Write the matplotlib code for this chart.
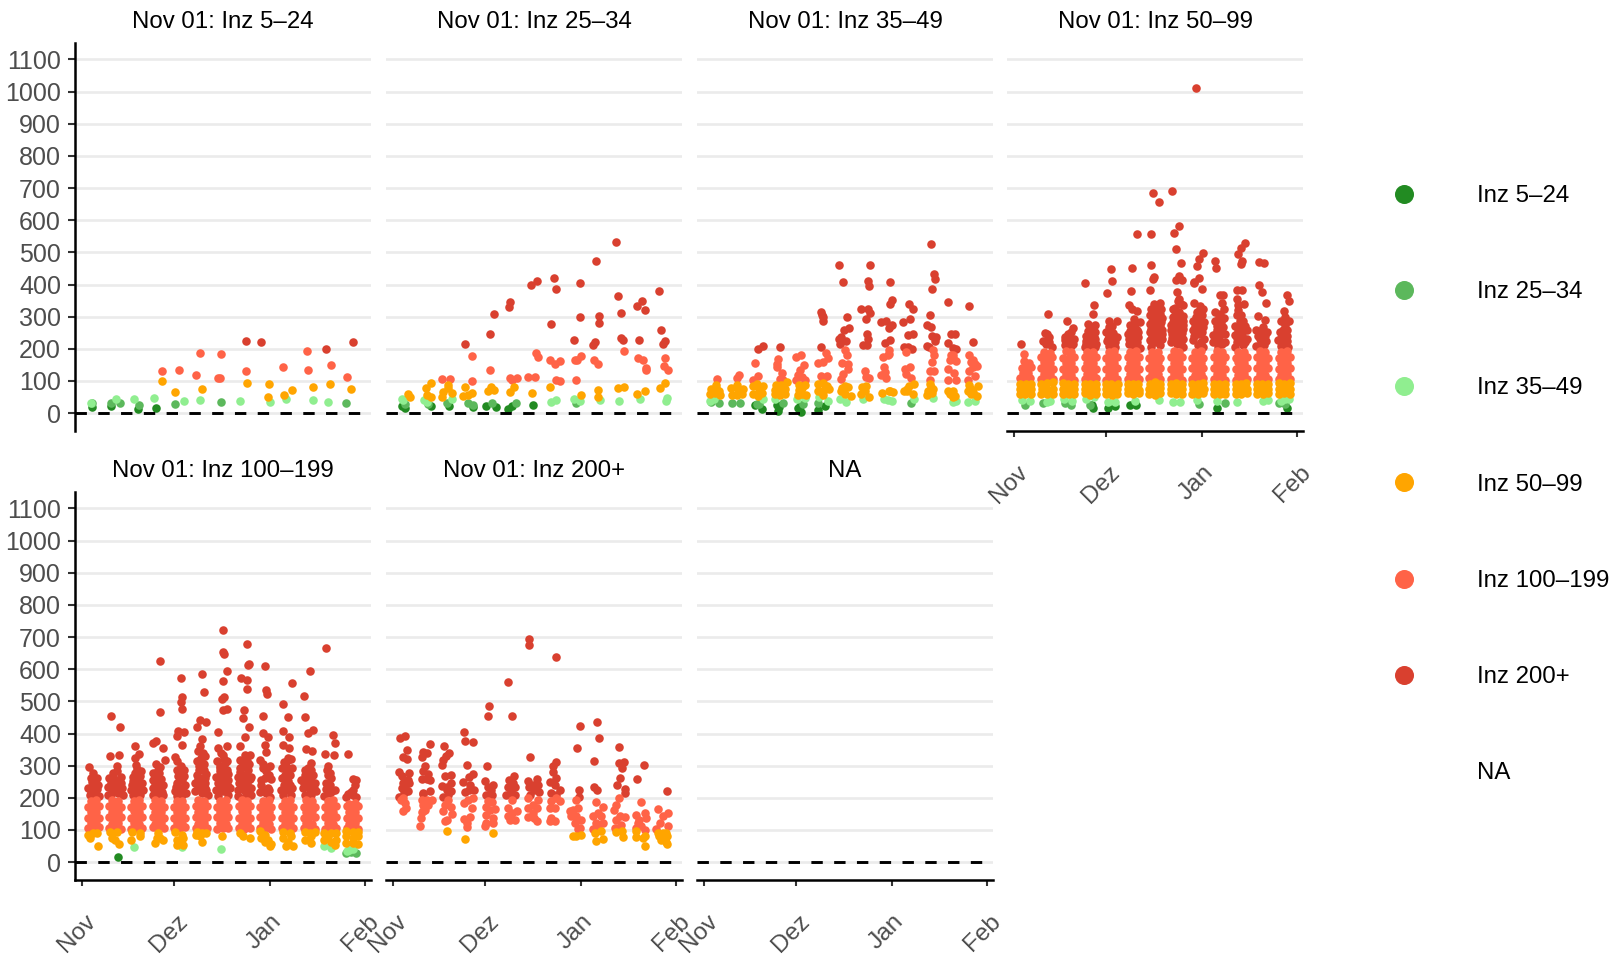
import numpy as np
import matplotlib
matplotlib.use('Agg')
import matplotlib.pyplot as plt
from matplotlib.lines import Line2D
from matplotlib.transforms import ScaledTranslation

plt.rcParams['font.family'] = ['Liberation Sans', 'DejaVu Sans']
plt.rcParams['lines.scale_dashes'] = False

groups = ['Inz 5–24', 'Inz 25–34', 'Inz 35–49', 'Inz 50–99', 'Inz 100–199', 'Inz 200+']
titles = ['Nov 01: Inz 5–24', 'Nov 01: Inz 25–34', 'Nov 01: Inz 35–49', 'Nov 01: Inz 50–99',
          'Nov 01: Inz 100–199', 'Nov 01: Inz 200+', 'NA']
colours = ['#228B22', '#5CB85C', '#90EE90', '#FFA500', '#FF6347', '#D9402F']
month_days = [0, 30, 61, 92]  # days since 1 Nov
month_labels = ['Nov', 'Dez', 'Jan', 'Feb']
y_ticks = list(range(0, 1101, 100))

# every point is (days since 1 Nov, value)
p1_dark = [(3.5,20),(9.4,23),(18.4,13),(24.2,17)]
p1_mid = [(3.5,31),(9.5,31),(12.5,30),(18.5,26),(30.2,29),(45.2,35),(85.9,32)]
p1_light = [(2.9,33),(11,44),(17.1,43),(23.5,48),(33.1,38),(38.4,41),(51.3,38),(61.1,35),(66.4,45),(75.1,41),(80.0,35)]
p1_orange = [(25.9,101),(30.4,66),(39,76),(53.7,94),(60.4,51),(60.9,91),(65.7,57),(68.4,72),(75.1,82),(80.7,91),(87.5,76)]
p1_tomato = [(25.9,132),(31.5,135),(37.1,119),(38.4,188),(44.3,110),(44.9,110),(45.2,185),(53.3,132),(65.2,144),(73.2,194),(73.5,135),(80.8,151),(86.2,113)]
p1_red = [(53.3,225),(58.1,222),(79.3,200),(88.2,222)]

p2_dark = [(3.1,23),(4,17),(12.3,23),(18.4,23),(25.9,19),(30.2,21),(33.4,20),(37.5,13),(38.8,23),(45.4,24)]
p2_mid = [(4,29),(11.6,29),(17.5,32),(24.5,32),(25.9,26),(32.3,30),(39.9,32),(59.6,30)]
p2_light = [(2.9,45),(3.5,40),(10,41),(11,34),(19.1,45),(51.4,35),(53,41),(58.8,45),(60.7,38),(67.2,41),(73.4,38),(80.2,45),(89,48),(88.6,38)]
p2_orange = [(5,60),(5.5,51),(10.7,79),(12.3,94),(11,57),(12.3,51),(16.4,67),(17.8,87),(18,78),(19.2,63),(16,51),(23.5,82),(22.9,54),(24.5,57),(25.8,62),
             (31.8,82),(31,69),(33,73),(38.2,66),(39.5,82),(45.1,63),(50.9,82),(61,57),(66.7,73),(66.7,51),(73,79),(75,82),(79.4,60),(82,69),(86.7,79),(88.4,94)]
p2_tomato = [(25.8,178),(25.6,101),(31.6,135),(38.2,110),(38.6,102),(40.2,110),(44,113),(46.1,111),(46.4,188),(47.2,174),(50.9,166),(52.6,153),(54.2,163),
             (53.1,104),(54.4,101),(59.3,166),(59.8,164),(61.2,178),(59.4,104),(65.3,166),(66.7,153),(75.1,194),(79.5,172),(81.2,166),(82.1,141),(82.2,133),
             (88.4,172),(88,147),(89.2,135),(16.1,106),(18.6,107)]
p2_red = [(72.4,533),(66.1,474),(52.5,421),(60.8,405),(53.1,387),(46.7,412),(45,399),(86.5,381),(73.2,365),(80.8,349),(79.4,334),(81.9,321),(74,312),(66.9,303),
          (60.8,300),(67.1,281),(51.5,278),(87,259),(74.2,234),(74.9,226),(79.9,228),(88.3,225),(87.6,216),(58.9,228),(65.6,221),(65,213),(38.2,345),(37.8,331),
          (32.8,309),(31.5,247),(23.5,216)]

p3_dark = [(16.6,24),(18.8,13),(23.7,24),(24.2,8),(24.5,19),(30.7,17),(31.5,3),(31.2,21),(37.2,11),(39.5,21)]
p3_mid = [(2.3,34),(5.1,30),(9.1,30),(11.8,30),(17.2,29),(17.9,27),(25.8,31),(32.3,27),(37.2,30),(67.4,32)]
p3_light = [(2,39),(3.4,43),(19.1,45),(23.1,45),(30.3,43),(32.8,47),(37.5,50),(40.4,39),(44.2,45),(46.1,35),(51.7,43),(58.5,43),(59.8,41),(61.2,39),(68.1,45),
            (74.4,48),(80.9,36),(82,38),(85.8,34),(88.1,37)]
p3_orange = [(2.2,60),(3.7,62),(5.4,56),(2.4,75),(4,78),(5,70),(3.9,88),(9.2,57),(10.8,55),(12.3,60),(9,77),(11,72),(12.6,75),(10.8,88),
             (16.1,60),(17.6,52),(19,62),(16,85),(18,75),(19.2,85),(17.2,90),(23,58),(24.8,55),(26.3,60),(23,72),(25,74),(26.5,75),(23.4,88),(25,86),(26.9,96),
             (30.6,55),(32,60),(33.2,55),(31,72),(32,78),(31,88),(32.8,88),(38.6,55),(37.2,70),(39,72),(40.6,75),(37.2,90),(38.8,95),(40,85),
             (44.5,70),(46,60),(47.7,54),(45,78),(46.8,80),(45.8,85),(51,60),(52.5,70),(53.6,50),(52.8,85),(51.5,80),(58,62),(60,68),(61.5,66),(60.5,70),
             (65,68),(66.6,85),(68.2,90),(66,75),(68,60),(66,68),(72.4,55),(74,62),(73.8,82),(74.5,75),(72.8,68),(73.5,90),
             (79.2,70),(80.5,65),(81.5,52),(79.8,60),(81,50),(80.8,68),(86,88),(86.8,60),(88.8,52),(86.7,75),(88.9,85),(87.5,65),(85.9,70)]
p3_tomato = [(4.4,107),(11.4,120),(10.7,110),(16.1,104),(17.7,116),(16.6,157),(24.2,167),(23.9,153),(23.7,143),(25.5,125),(24.7,107),(25.6,104),
             (30.1,174),(31.5,181),(32.6,151),(31.2,133),(30.7,120),(31.8,112),(30.1,104),(32.8,104),(37.1,157),(38.8,160),(39.6,186),(40.4,173),(38,117),(40.1,114),(38.8,107),
             (45.8,197),(46.4,181),(45,157),(46.9,153),(46.7,138),(45.3,122),(44.4,107),(52.5,130),(52.8,112),(53.7,110),(60.1,195),(60.1,185),(58.3,176),(58.5,143),(57.6,120),
             (59.3,110),(58.8,127),(59.8,180),(65.8,190),(65.2,138),(66.9,143),(65.8,122),(67.4,110),(74.4,197),(74.6,181),(74.2,160),(73.3,130),(74.7,130),(73.3,104),
             (80.9,181),(79.8,166),(81.8,162),(79.3,138),(81.4,125),(79.3,104),(81.9,104),(80.9,170),(80.3,181),(86,181),(87.4,166),(88.7,146),(86,130),(87.9,117),(85.8,104),
             (87.4,143),(86.9,158),(88.2,153)]
p3_red = [(43.8,462),(45.3,409),(46.4,300),(47.2,265),(45.5,259),(44.7,236),(43.8,231),(46.1,223),(44.2,216),(54.1,462),(53.4,410),(53.6,396),(51.2,325),(53.4,325),(54,312),
          (52.6,293),(53,247),(53.4,231),(51.7,211),(52.9,211),(60.5,409),(61.1,353),(60.4,340),(59.1,288),(57.7,282),(61,273),(60,265),(60.4,226),(58.8,219),
          (66.5,340),(67.9,325),(66.9,293),(64.7,284),(67.9,247),(66.3,242),(64.9,205),(66.3,205),(67.7,200),(73.7,527),(74.8,433),(75,418),(74,387),(73.3,304),
          (72.5,275),(73.7,268),(74,239),(75.3,236),(75,224),(72.4,209),(73.1,207),(79.3,347),(80.4,245),(81.5,247),(79.3,219),(80.9,203),(81.8,200),(86.2,334),(87.4,222),
          (17.5,200),(19.3,209),(24.9,207),(38,207),(38.2,314),(38.6,299),(38.8,287),(38.3,305)]

p4_dark = [(25.7,15),(25.4,24),(30.6,15),(32.9,21),(37.8,26),(39.7,24),(66.1,17),(88.6,16)]
p4_mid = [(3.6,25),(9.6,31),(16.7,31),(18.6,26),(24.8,26),(60.3,29),(68.5,32),(86.2,31),(88,29)]
p4_light = [(2.7,41),(5.4,39),(11.7,39),(10.8,34),(16.2,45),(18.9,37),(23.5,45),(26.1,50),(30.5,34),(32.9,34),(39.4,39),(47,41),(51.6,36),(54.1,36),(59.4,41),(65.9,39),
            (72.4,36),(80.8,39),(82.4,41),(88,45),(89.4,45),(86.9,38)]
p4_orange = [(2,59),(3.8,58),(5.6,60),(2.1,75),(3.7,74),(5.5,76),(2,91),(3.9,92),(5.6,90),
             (9,60),(10.8,59),(12.6,61),(9.1,76),(10.9,75),(12.7,75),(9,92),(10.7,94),(12.6,96),
             (16,61),(17.8,58),(19.6,60),(16.1,75),(17.9,76),(19.7,74),(16,93),(17.7,91),(19.6,92),
             (23,63),(24.8,57),(26.6,60),(23,75),(24.7,76),(26.7,74),(23.1,92),(24.9,90),(26.6,92),
             (30,58),(31.8,57),(33.6,58),(30.1,75),(31.9,74),(33.6,74),(30,92),(31.7,90),(33.7,91),
             (37,63),(38.8,60),(40.6,63),(37.1,76),(38.9,74),(40.8,73),(37,90),(38.7,92),(40.5,90),
             (44,60),(45.8,55),(47.6,62),(44,76),(45.9,74),(47.5,78),(44.1,91),(45.7,96),(47.6,92),
             (51,62),(52.8,60),(54.6,60),(51.1,76),(52.9,74),(54.7,74),(51,92),(52.7,94),(54.6,90),
             (58,59),(59.8,60),(61.6,62),(58.1,75),(59.9,76),(61.7,74),(58,91),(59.7,90),(61.6,93),
             (65,58),(66.8,60),(68.6,59),(65.1,76),(66.9,74),(68.6,75),(65,92),(66.7,90),(68.5,92),
             (72,58),(73.8,60),(75.6,63),(72.1,74),(73.9,75),(75.7,76),(72,90),(73.7,92),(75.5,94),
             (79,60),(80.8,58),(82.6,63),(79.1,75),(80.9,76),(82.7,74),(79,92),(80.7,90),(82.6,92),
             (86,59),(87.8,62),(89.6,60),(86.1,75),(87.9,76),(89.7,74),(86,93),(87.7,90),(89.6,95)]
p4_tomato = [(2.2,108),(3.8,106),(5.3,110),(3,125),(4.6,124),(2.6,140),(4,142),(5.6,144),(3.2,162),(5,155),(3.5,185),
             (9,106),(10.8,104),(12.6,107),(9.9,122),(11.7,121),(9,139),(10.8,140),(12.6,137),(9.9,158),(11.7,155),(9,175),(10.8,174),(12.4,176),(9.9,190),(11.7,188),
             (16,105),(17.8,107),(19.6,104),(16.9,123),(18.7,120),(16,138),(17.8,141),(19.6,137),(16.9,157),(18.7,156),(16,173),(17.8,172),(19.6,175),(16.9,192),(18.7,190),
             (23,107),(24.8,105),(26.6,108),(23.9,122),(25.7,120),(23,139),(24.8,140),(26.6,136),(23.9,156),(25.7,157),(23,174),(24.8,172),(26.6,175),(23.9,191),(25.7,189),
             (30,104),(31.8,106),(33.6,105),(30.9,120),(32.7,122),(30,138),(31.8,137),(33.6,140),(30.9,155),(32.7,157),(30,172),(31.8,175),(33.6,174),(30.9,190),(32.7,192),
             (37,106),(38.8,108),(40.6,105),(37.9,122),(39.7,120),(37,139),(38.8,141),(40.6,138),(37.9,157),(39.7,155),(37,174),(38.8,172),(40.6,175),(37.9,190),(39.7,192),
             (44,108),(45.8,105),(47.6,106),(44.9,121),(46.7,123),(44,140),(45.8,137),(47.6,139),(44.9,155),(46.7,158),(44,172),(45.8,175),(47.6,173),(44.9,191),(46.7,190),
             (51,105),(52.8,107),(54.6,104),(51.9,122),(53.7,120),(51,137),(52.8,141),(54.6,138),(51.9,156),(53.7,157),(51,175),(52.8,172),(54.6,174),(51.9,192),(53.7,189),
             (58,106),(59.8,104),(61.6,108),(58.9,120),(60.7,123),(58,139),(59.8,137),(61.6,140),(58.9,157),(60.7,155),(58,172),(59.8,175),(61.6,173),(58.9,189),(60.7,192),
             (65,107),(66.8,106),(68.6,104),(65.9,122),(67.7,120),(65,140),(66.8,138),(68.6,137),(65.9,155),(67.7,158),(65,174),(66.8,172),(68.6,175),(65.9,192),(67.7,190),
             (72,104),(73.8,108),(75.6,106),(72.9,120),(74.7,122),(72,137),(73.8,140),(75.6,139),(72.9,158),(74.7,155),(72,172),(73.8,174),(75.6,175),(72.9,190),(74.7,191),
             (79,106),(80.8,105),(82.6,107),(79.9,123),(81.7,120),(79,140),(80.8,139),(82.6,141),(79.9,156),(81.7,157),(79,175),(80.8,173),(82.6,172),(79.9,192),(81.7,189),
             (86,105),(87.8,107),(89.6,106),(86.9,120),(88.7,122),(86,137),(87.8,141),(89.6,139),(86.9,157),(88.7,155),(86,173),(87.8,174),(89.6,175),(86.9,190),(88.7,192)]
p4_red = [(59.2,1012),(45.3,685),(51.4,692),(47,657),(53.8,583),(39.9,558),(44.4,558),(52.1,561),(52.8,511),(61.3,499),(60,480),(54.4,467),(59.4,458),(44.6,461),(38.4,452),
          (31.6,449),(65.2,474),(65.8,452),(75.2,530),(73.7,514),(72.7,496),(74,474),(73.7,465),(79.6,471),(81.3,468),(45.5,423),(53.5,427),(52.7,415),(54.5,413),(60.2,419),
          (58.5,408),(23.3,404),(31.9,410),(45.1,418),(2.4,216),
          (11,309),(10,250),(11.3,236),(10.6,214),(12.4,207),
          (17.2,285),(19.4,265),(18.6,252),(16.7,236),(19.7,231),(16.7,226),(18.6,210),
          (26.1,335),(25.6,307),(24,278),(26.3,273),(24.6,257),(26.5,252),(24,236),(25.9,236),(23.5,224),(25,221),(26.8,216),(23.2,207),(24.8,207),(26.5,205),
          (30.2,375),(30.8,288),(33.6,288),(31.9,270),(30,252),(32.2,249),(33.6,236),(30.2,224),(32.4,221),(30.8,210),(33,205),
          (38.1,380),(37.5,337),(38.3,325),(40,317),(38.9,293),(37.8,273),(39.5,278),(40.9,283),(37,247),(38.9,247),(40.3,252),(38.3,231),(40,221),(37.3,216),(38.9,205),(40.9,203),
          (44.2,382),(47.5,342),(46.4,328),(44.5,325),(47.5,309),(44.3,304),(45.9,288),(47.7,283),(44.1,278),(46.2,268),(48.1,257),(44.3,252),(46.4,242),(48.1,231),(44.1,226),(45.9,221),(47.5,211),(44.5,207),
          (52.9,376),(53.5,356),(54.9,335),(51.8,325),(53.8,314),(51.6,299),(53.5,293),(55.1,288),(51,273),(52.9,268),(54.9,262),(51.3,247),(53.5,242),(55.1,231),(51,221),(52.9,216),(54.9,207),
          (58.5,404),(61.1,385),(58.5,342),(60.5,332),(59.4,314),(61,304),(58.1,288),(59.9,278),(61.6,268),(58.3,257),(60.3,247),(61.8,231),(58.1,226),(59.9,211),(61.6,205),
          (67,366),(68,366),(67.5,343),(65.3,314),(68.3,325),(67,309),(65.3,288),(67.8,268),(65.9,257),(64.8,242),(68.6,247),(66.7,231),(64.8,221),(68.6,221),(66.4,207),
          (72.6,384),(74,382),(72.4,356),(74.7,338),(72.9,335),(72.4,304),(74.5,288),(73.2,268),(75.6,257),(71.8,242),(74,242),(75.6,231),(72.6,221),(74.5,211),(71.8,205),
          (79.6,400),(80.5,378),(81.8,343),(79.4,301),(81.5,291),(81,268),(78.8,257),(82.1,252),(79.9,231),(81.8,224),(78.8,210),
          (88.8,366),(89.3,348),(87.7,319),(89.3,288),(86.7,286),(88,273),(86.4,252),(87.5,242),(85.9,226),(88.6,224),(86.9,210),(89.1,207)]
# estimated points inside the solid red part of the columns
p4_red_mass = [(9.5,225),(11.5,222),(10.8,245),(16.5,212),(17.8,225),(19.2,214),(17.7,245),
               (23.5,240),(25,238),(26.5,232),(24,255),(25.6,258),(23.6,215),(31,240),(32.5,238),(30.5,232),(33,222),(31.5,255),(31,268),
               (37.5,232),(39.5,232),(38.5,262),(40,258),(37.8,255),(39,278),(37.9,218),(40.4,236),
               (44.5,225),(46.5,225),(44.8,240),(46.8,232),(48,245),(44.5,262),(46,255),(47.6,270),(45,285),(46.6,298),(48,295),(44.8,315),(46.2,310),(47.8,325),(45.5,338),
               (51.5,235),(53,230),(54.2,222),(51.2,258),(52.6,255),(54.5,248),(51.8,282),(53.2,280),(54.8,275),(52.2,305),(53.6,305),(55,302),(52.5,328),(54.2,338),(53.2,348),
               (58.5,240),(60.8,222),(59.4,262),(61,252),(58.7,272),(60.6,288),(61.8,282),(59.2,300),(60.2,318),(61.3,325),
               (65.5,225),(67.5,215),(65.6,245),(67.3,245),(66,270),(67.3,282),(66.5,300),(68.1,295),
               (72.6,235),(73.5,228),(75,222),(72.8,255),(74.6,262),(71.9,270),(73.3,285),(75,272),(73.9,305),(72.8,320),
               (79.8,212),(81.4,212),(80.3,245),(81.6,240),(79.2,240),(80.5,258),(87.5,215),(88.7,240),(87.4,258),(88.7,258),(86.6,235),(88,300)]

p5_dark = [(11.9,16)]
p5_mid = [(85.9,28),(88.9,28),(87.5,30)]
p5_light = [(17.1,46),(32.7,47),(45.1,40),(78.8,49),(80.8,44),(86.9,38),(88,40),(86,36)]
p5_orange = [(2.2,85),(3.8,90),(4.9,90),(2.7,75),(5.3,51),(9.2,95),(11.3,95),(9.7,75),(10.8,69),(12.1,57),(16.2,95),(18.9,90),(15.9,69),(18.9,80),
             (24.8,90),(25.4,75),(23.8,59),(26.5,69),(24.3,75),(30.2,95),(32.4,85),(30.8,69),(32.9,75),(30.8,54),(32.9,54),(37.3,95),(38.9,90),(40.5,90),(38.3,80),(38.9,64),(37,85),
             (45.6,82),(51.3,92),(52.4,82),(54.5,75),(57.8,98),(59.4,85),(58.3,75),(60.5,69),(61,50),(59.4,64),(61.6,57),
             (65.3,93),(67.5,92),(65.3,75),(68,80),(66.4,49),(68.5,49),(67,64),(72.4,95),(74,90),(75.6,95),(72.4,69),(74.5,59),(74.5,80),
             (78.8,90),(81,90),(82.6,90),(78.8,69),(81,64),(82.6,69),(79.9,80),(82.1,54),(85.9,98),(88,95),(89.6,95),(85.9,80),(88,75),(89.6,80),(85.9,59),(88,59),(89.6,57)]
p5_tomato = [(2,105),(3.8,103),(5.6,108),(2.9,122),(4.7,120),(2,138),(3.8,140),(5.6,136),(2.9,157),(4.7,155),(2,173),(3.8,172),(5.6,175),(2.9,190),(4.7,192),
             (9,107),(10.8,105),(12.6,103),(9.9,120),(11.7,123),(9,139),(10.8,137),(12.6,140),(9.9,155),(11.7,157),(9,175),(10.8,172),(12.6,173),(9.9,192),(11.7,190),
             (16,104),(17.8,107),(19.6,105),(16.9,122),(18.7,120),(16,137),(17.8,140),(19.6,139),(16.9,158),(18.7,155),(16,172),(17.8,174),(19.6,175),(16.9,190),(18.7,193),
             (23,108),(24.8,104),(26.6,106),(23.9,120),(25.7,122),(23,140),(24.8,138),(26.6,137),(23.9,155),(25.7,157),(23,175),(24.8,172),(26.6,173),(23.9,192),(25.7,189),
             (30,105),(31.8,106),(33.6,108),(30.9,123),(32.7,120),(30,137),(31.8,140),(33.6,138),(30.9,157),(32.7,155),(30,173),(31.8,175),(33.6,172),(30.9,189),(32.7,191),
             (37,107),(38.8,104),(40.6,105),(37.9,120),(39.7,122),(37,139),(38.8,137),(40.6,141),(37.9,155),(39.7,158),(37,175),(38.8,172),(40.6,174),(37.9,192),(39.7,190),
             (44,104),(45.8,107),(47.6,105),(44.9,122),(46.7,120),(44,140),(45.8,137),(47.6,139),(44.9,156),(46.7,155),(44,172),(45.8,175),(47.6,173),(44.9,190),(46.7,193),
             (51,106),(52.8,104),(54.6,107),(51.9,120),(53.7,123),(51,137),(52.8,140),(54.6,138),(51.9,158),(53.7,155),(51,174),(52.8,172),(54.6,175),(51.9,192),(53.7,189),
             (58,105),(59.8,107),(61.6,104),(58.9,122),(60.7,120),(58,139),(59.8,138),(61.6,141),(58.9,155),(60.7,157),(58,172),(59.8,175),(61.6,173),(58.9,190),(60.7,192),
             (65,107),(66.8,105),(68.6,106),(65.9,120),(67.7,123),(65,138),(66.8,140),(68.6,137),(65.9,157),(67.7,155),(65,175),(66.8,173),(68.6,172),(65.9,189),(67.7,192),
             (72,105),(73.8,107),(75.6,104),(72.9,122),(74.7,120),(72,137),(73.8,139),(75.6,140),(72.9,155),(74.7,158),(72,173),(73.8,175),(75.6,172),(72.9,192),(74.7,190),
             (79,104),(80.8,106),(82.6,107),(79.9,123),(81.7,120),(79,140),(80.8,137),(82.6,139),(79.9,156),(81.7,155),(79,172),(80.8,174),(82.6,175),(79.9,190),(81.7,192),
             (86,107),(87.8,105),(89.6,104),(86.9,120),(88.7,122),(86,138),(87.8,141),(89.6,137),(86.9,155),(88.7,157),(86,174),(87.8,172),(89.6,175),(86.9,182),(88.7,185)]
p5_red = [(45.9,722),(45.7,653),(46.1,647),(53.5,678),(54.2,616),(53.9,614),(59.4,610),(25.4,625),(79.4,666),(74.2,594),(47.3,594),(38.9,585),(32.1,572),(45.7,564),(51.6,572),
          (53.8,566),(68.3,557),(53.7,538),(39.8,528),(59.9,534),(60,523),(72,516),(32.6,513),(32.2,498),(46.1,515),(45.5,507),(65.4,492),(32.5,476),(25.4,467),(45.7,474),(47.1,476),
          (52.7,473),(52.5,448),(9.5,454),(58.9,454),(67,451),(72.5,450),(12.5,420),(40.2,436),(38.3,441),(37.3,420),(54.2,420),(75.2,410),(73.4,401),(65.3,408),(31.1,407),(33.2,404),
          (44.3,404),(30.8,392),(81.5,396),(58.8,401),(60.5,389),(52.9,389),(67.3,389),(82.1,370),(17.2,361),(24,376),(23.3,370),(65.3,364),(26.5,355),(32.5,364),(38.9,383),(47.2,362),
          (51.4,362),(59.4,365),(67.3,355),(9.3,330),(12,333),(18.6,336),(17.2,324),(30.2,327),(44.3,355),(59.7,342),(54.5,332),(53,334),(66.9,324),(72.9,352),(74.7,346),(79.1,336),
          (81.9,333),(86.5,336),
          (2.5,296),(3.6,277),(4.3,254),(2.2,230),(3.8,235),(5.4,241),(2.7,209),(4.3,215),(5.7,207),(3.8,204),
          (11.6,298),(10.3,277),(12.6,264),(9,261),(10.8,256),(8.6,235),(10.8,235),(13,230),(9.7,215),(11.9,215),(8.6,209),(13.3,209),
          (17.6,303),(19.4,282),(17.3,277),(18.9,267),(16.6,251),(18.4,246),(15.9,225),(17.9,230),(19.8,225),(16.7,209),(18.9,209),
          (27,318),(24,306),(25.4,297),(23.2,277),(25.2,277),(23,256),(24.8,251),(26.5,241),(23.2,230),(25.1,225),(23,209),(24.8,209),(26.5,209),
          (31,313),(32.4,282),(30.8,285),(33.2,287),(32.4,256),(33.5,241),(30.2,220),(32.4,230),(34,215),(30.8,206),(32.4,209),
          (38.3,360),(39.4,339),(37.5,313),(40,329),(38.9,308),(40.5,275),(37.3,272),(38.9,261),(36.7,246),(40,246),(38.3,235),(40.5,225),(36.7,220),(38.9,215),(41,209),
          (45.9,334),(44,313),(46.4,308),(44.8,292),(47,287),(43.7,266),(45.9,272),(47.5,256),(44.3,246),(46.4,246),(48,230),(43.7,225),(45.9,220),(47.5,209),(44.3,206),
          (51.3,318),(53.5,313),(51.3,292),(54,287),(50.8,266),(52.9,272),(55.1,266),(51.3,246),(53.5,246),(55.1,230),(50.8,225),(52.9,220),(55.1,209),(50.8,206),(52.9,204),
          (57.8,318),(61,298),(58.9,292),(59.9,282),(61.6,258),(58.3,241),(60.5,230),(57.8,217),(59.9,215),(61,204),
          (65.1,292),(67,318),(68,320),(66.4,298),(68.3,292),(65.1,261),(67,251),(68.3,230),(64.8,225),(66.4,225),(68,209),(65.3,209),
          (74.5,308),(73.4,292),(72.4,272),(74.5,266),(71.3,254),(73.4,251),(75.6,246),(71.8,230),(74,225),(75.9,220),(72.4,209),(74.5,209),
          (79.8,300),(80.5,277),(79.4,246),(82.1,225),(80.7,215),(78.8,207),(79.9,272),
          (88.2,258),(89.1,256),(88.2,225),(85.9,204),(88,209),(89.1,204)]
p5_red_mass = [(3,220),(4.8,228),(3.3,250),(5,262),(2.9,262),(9.5,245),(11.4,245),(12.7,245),(9.9,228),(11.5,230),(10,266),(11.5,284),
               (16.4,240),(18,258),(19.5,245),(17.1,215),(18.3,215),(16.8,265),(18.1,290),(23.7,245),(25.8,260),(24.2,265),(24,220),(26,218),(24.8,285),(25.8,235),
               (31,245),(30.7,235),(32.8,220),(31.4,268),(33.2,268),(32.3,300),(31.5,218),
               (37.6,230),(40.1,232),(38.7,250),(37.6,258),(40.1,262),(38.2,285),(39.8,285),(38.2,300),(39.8,305),(38.8,325),(37.8,345),
               (44.6,225),(46.8,225),(45,240),(47.4,238),(44.6,258),(46.8,262),(45,282),(46.4,285),(47.5,275),(44.9,300),(46.1,320),(47.3,315),(45.3,340),
               (51.6,235),(53.9,235),(50.9,245),(52.2,258),(54.5,258),(51.5,280),(53,295),(54.4,305),(52.3,305),
               (58.8,228),(60.9,225),(58.2,255),(59.5,262),(60.8,270),(59,305),(65.8,240),(67.6,240),(66,270),(67.7,272),(65.6,310),(66.8,280),
               (72.3,245),(74.2,240),(75.4,232),(73,262),(74.5,285),(72.5,288),(75,272),(79.3,228),(81.3,222),(80.5,240),(79.5,285),(81,262),(87.4,218),(88.8,240),(86.5,212)]

p6_orange = [(17.5,96),(23.5,72),(32.6,90),(58.4,81),(59.6,81),(61.2,85),(65.5,90),(67.7,96),(66.1,65),(68.3,72),(72.6,93),(74.4,98),(74.8,78),
             (79.1,96),(79.1,78),(81.2,75),(82,81),(82,50),(86.1,90),(87.7,92),(88.8,90),(86.4,80),(87.7,80),(89,80),(87.2,69),(88.8,64),(89,57)]
p6_tomato = [(3.5,199),(4,184),(4.3,168),(3.5,158),(2.6,194),
             (9.4,194),(11,194),(12.6,194),(9.9,178),(11.6,178),(10.5,163),(9.4,155),(9.2,137),(9,112),(9.9,158),
             (18,194),(17,178),(18.8,173),(16.2,160),(19.1,150),(17.5,132),(17,129),
             (26.1,199),(24.5,194),(23.2,184),(25.6,168),(25,140),(23.2,134),(24.2,121),(24,109),
             (31,191),(32.1,186),(30.2,173),(33.2,165),(31.5,163),(30.2,147),(32.6,137),(30.2,121),(32.6,121),(30.1,113),
             (38.6,194),(37.5,168),(40.2,158),(38.6,152),(37.5,142),(39.6,132),(38,132),
             (44,199),(47.2,194),(45.6,178),(44,168),(46.7,168),(45.6,152),(44,140),(46.7,127),(45.8,137),
             (53.1,199),(51.5,189),(54.2,189),(52.6,168),(51,168),(51.5,137),(52.6,127),(51.2,127),
             (59.6,194),(58.5,163),(57.5,158),(60.2,168),(58,142),(59.6,142),(61.2,132),(59.1,121),(60.7,106),(60.2,102),
             (65.9,187),(68.3,171),(66.6,152),(65,142),(67.7,142),(66.1,121),(68.3,121),(65,103),(66.6,106),
             (73.4,199),(72.6,178),(71.8,163),(73.7,142),(75.3,140),(72.6,132),(74.2,116),(72,106),
             (80.7,187),(79.1,147),(81.8,152),(80.1,132),(82.3,137),(80.7,111),(79.1,106),(81.8,101),(79.6,121),
             (86.1,165),(89.3,152),(87.7,142),(86.6,121),(89.3,111),(85.5,103)]
p6_red = [(44.3,695),(44.3,675),(53.1,637),(37.3,560),(31.4,485),(30.8,454),(38.6,454),(60.8,423),(66.3,436),(66.9,386),(59.9,355),(73.6,358),(44.7,327),(65.3,314),(73.3,308),
          (75.2,311),(74.3,292),(81.5,302),(79.2,258),(73.7,261),(72.9,240),(65.3,235),(66.4,224),(60.4,224),(60.4,202),(75.3,227),(75.3,215),(89,221),
          (2.4,386),(4.1,392),(4.6,348),(3.5,327),(4.6,320),(2.2,280),(5.3,277),(3,267),(5,256),(3.5,246),(5.4,246),(2.9,230),(5.1,220),(3.7,215),(2.2,202),(4,230),
          (12,367),(9.7,342),(11,339),(9.4,327),(10.5,298),(9.7,282),(11.6,275),(9.4,258),(12.1,256),(9.9,215),(12.1,220),(11,258),(9.7,213),
          (16.8,361),(18.4,339),(17.2,331),(16.4,318),(16.1,302),(19,272),(17,267),(19,246),(15.9,237),(17.5,225),(19,220),(16.2,202),(18,209),(17.5,235),
          (23.2,404),(23.4,376),(26,373),(24.2,302),(26,274),(24.9,264),(22.9,248),(25,241),(26.5,225),(23.5,217),(24.9,225),
          (30.6,299),(30.1,251),(32.6,239),(31,235),(31.9,225),(30.2,209),(32.1,209),
          (39.3,267),(37.8,254),(39.1,246),(37.5,235),(39.6,235),(38.3,220),(36.9,209),(39.6,209),(38.3,209),
          (46.7,259),(44,251),(45.6,241),(47.2,239),(44.2,235),(45.8,225),(47.5,218),(44.5,209),
          (52.9,311),(52,298),(51.9,279),(53.1,261),(51,249),(52.6,241),(54.2,225),(51.5,215),(53.1,209)]

panels = [
    [p1_dark, p1_mid, p1_light, p1_orange, p1_tomato, p1_red],
    [p2_dark, p2_mid, p2_light, p2_orange, p2_tomato, p2_red],
    [p3_dark, p3_mid, p3_light, p3_orange, p3_tomato, p3_red],
    [p4_dark, p4_mid, p4_light, p4_orange, p4_tomato, p4_red + p4_red_mass],
    [p5_dark, p5_mid, p5_light, p5_orange, p5_tomato, p5_red + p5_red_mass],
    [[], [], [], p6_orange, p6_tomato, p6_red],
    [[], [], [], [], [], []],
]
draw_order = [0, 1, 2, 5, 4, 3]

W, H = 1617, 955
fig = plt.figure(figsize=(W / 100, H / 100), dpi=100)
lefts = [75, 386, 697, 1007, 75, 386, 697]
tops = [43, 43, 43, 43, 492, 492, 492]
with_y = [0, 4]
with_x = [3, 4, 5, 6]
label_shift = ScaledTranslation(-5 / 100, 0, fig.dpi_scale_trans)

for i in range(7):
    ax = fig.add_axes([lefts[i] / W, 1 - (tops[i] + 387.5) / H, 296 / W, 387.5 / H])
    ax.patch.set_visible(False)  # the NA panel must not cover the labels above it
    ax.set_xlim(-2.18, 93.9)
    ax.set_ylim(-54, 1151)
    for s in ['top', 'right', 'left', 'bottom']:
        ax.spines[s].set_visible(False)
    ax.set_yticks(y_ticks)
    ax.set_xticks(month_days)
    ax.set_xticklabels(month_labels)
    ax.yaxis.grid(True, color='#EBEBEB', lw=1.9, zorder=0)
    ax.set_axisbelow(True)
    ax.tick_params(axis='y', length=5, width=1.5, color='#333333', labelsize=18, labelcolor='#4D4D4D', pad=5,
                   left=i in with_y, labelleft=i in with_y)
    ax.tick_params(axis='x', length=4, width=1.5, color='#333333', labelsize=17.6, labelcolor='#4D4D4D', pad=18,
                   bottom=i in with_x, labelbottom=i in with_x)
    if i in with_y:
        ax.spines['left'].set_visible(True)
        ax.spines['left'].set_linewidth(1.8)
    if i in with_x:
        ax.spines['bottom'].set_visible(True)
        ax.spines['bottom'].set_linewidth(1.8)
        for lab in ax.get_xticklabels():
            lab.set_rotation(45)
            lab.set_ha('center')
            lab.set_va('top')
            lab.set_transform(lab.get_transform() + label_shift)
    ax.set_title(titles[i], fontsize=17.3, color='black', pad=11)
    for k in draw_order:
        pts = np.array(panels[i][k]).reshape(-1, 2)
        ax.scatter(pts[:, 0], pts[:, 1], s=38, color=colours[k], linewidths=0, zorder=3)
    ax.axhline(0, color='black', lw=2.1, linestyle=(0, (8.2, 8.2)), zorder=4)

handles = [Line2D([], [], linestyle='none', marker='o', markersize=13.7, markerfacecolor=c, markeredgewidth=0) for c in colours]
handles.append(Line2D([], [], linestyle='none'))
fig.legend(handles, groups + ['NA'], loc='upper left', bbox_to_anchor=(1380 / W, 1 - 185 / H), frameon=False,
           fontsize=17.3, labelspacing=3.09, handlelength=2, handletextpad=2.03, borderpad=0, borderaxespad=0)

fig.savefig('out.png', dpi=100)
